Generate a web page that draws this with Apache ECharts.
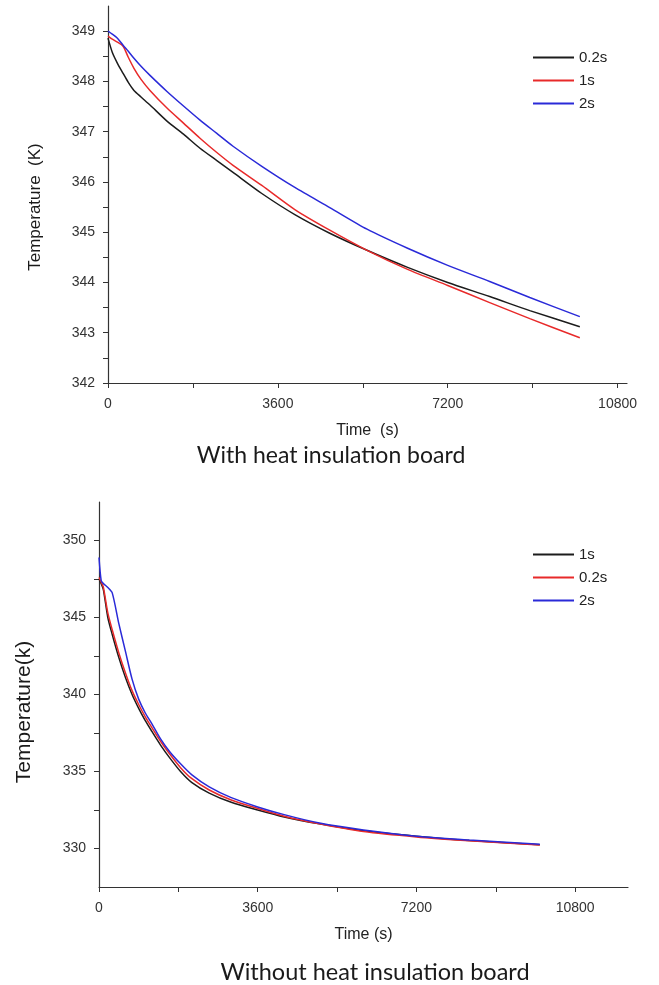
<!DOCTYPE html>
<html>
<head>
<meta charset="utf-8">
<script src="https://cdn.jsdelivr.net/npm/echarts@6/dist/echarts.min.js"></script>
<style>
  html, body { margin: 0; padding: 0; background: #fff; }
  #main { width: 659px; height: 985px; }
</style>
</head>
<body>
<div id="main"></div>
<script>
// top panel: with heat insulation board
const timeTop = [0, 90, 200, 320, 430, 550, 700, 890, 1250, 1600, 1950, 2300, 2650, 3260, 3960, 4700, 5490, 6350, 7200, 8090, 8940, 10000];
const top02s = [348.86, 348.58, 348.36, 348.16, 347.98, 347.82, 347.69, 347.53, 347.21, 346.95, 346.67, 346.43, 346.19, 345.77, 345.35, 344.98, 344.64, 344.30, 344.00, 343.72, 343.44, 343.12];
const top1s = [348.90, 348.84, 348.78, 348.70, 348.48, 348.26, 348.04, 347.82, 347.47, 347.17, 346.87, 346.59, 346.33, 345.93, 345.45, 345.04, 344.64, 344.26, 343.94, 343.60, 343.28, 342.90];
const top2s = [349.00, 348.94, 348.86, 348.72, 348.60, 348.46, 348.30, 348.12, 347.80, 347.51, 347.23, 346.97, 346.71, 346.31, 345.89, 345.49, 345.06, 344.68, 344.34, 344.02, 343.70, 343.32];

// bottom panel: without heat insulation board
const timeBot = [0, 50, 100, 200, 300, 450, 600, 750, 900, 1050, 1200, 1400, 1600, 1850, 2100, 2500, 3000, 3600, 4200, 5000, 6000, 7200, 8400, 10000];
const bot1s = [347.5, 347.2, 346.8, 345.0, 343.9, 342.4, 341.1, 340.0, 339.1, 338.3, 337.6, 336.7, 335.9, 335.0, 334.3, 333.6, 333.0, 332.5, 332.05, 331.6, 331.15, 330.8, 330.52, 330.25];
const bot02s = [347.6, 347.3, 346.95, 345.3, 344.2, 342.7, 341.4, 340.25, 339.35, 338.55, 337.85, 336.95, 336.15, 335.25, 334.55, 333.8, 333.15, 332.6, 332.1, 331.6, 331.1, 330.75, 330.5, 330.22];
const bot2s = [348.9, 347.4, 347.2, 346.95, 346.6, 344.6, 342.8, 341.0, 339.7, 338.8, 338.1, 337.1, 336.3, 335.5, 334.8, 334.0, 333.3, 332.7, 332.2, 331.65, 331.2, 330.8, 330.55, 330.27];

// tick labels
const xLabels = [0, 3600, 7200, 10800];
const xTicks = [0, 1800, 3600, 5400, 7200, 9000, 10800];
const yLabelsTop = [342, 343, 344, 345, 346, 347, 348, 349];
const yTicksTop = [342, 342.5, 343, 343.5, 344, 344.5, 345, 345.5, 346, 346.5, 347, 347.5, 348, 348.5, 349];
const yLabelsBot = [330, 335, 340, 345, 350];
const yTicksBot = [330, 332.5, 335, 337.5, 340, 342.5, 345, 347.5, 350];

const BLACK = '#1c1c1c', RED = '#e82a2a', BLUE = '#2a2ad8';
const FONT = 'Liberation Sans, Arial, sans-serif';

function zip(t, v) {
  return t.map((x, i) => [x, v[i]]);
}

function mkSeries(name, t, v, color, idx) {
  return {
    name: name, type: 'line', xAxisIndex: idx, yAxisIndex: idx,
    data: zip(t, v), showSymbol: false, smooth: 0.25,
    lineStyle: { color: color, width: 1.5 }, itemStyle: { color: color },
    animation: false
  };
}

const axisLineStyle = { lineStyle: { color: '#333', width: 1.2 } };
const labelStyle = { color: '#333', fontSize: 14, fontFamily: FONT, formatter: v => String(v) };

function xAxisOf(idx, max, name) {
  return {
    type: 'value', gridIndex: idx, min: 0, max: max,
    name: name, nameLocation: 'middle', nameGap: 40,
    nameTextStyle: { color: '#222', fontSize: 16, fontFamily: FONT },
    axisLine: axisLineStyle,
    axisTick: { show: true, length: 5, customValues: xTicks, lineStyle: { color: '#333' } },
    axisLabel: Object.assign({ margin: 14, customValues: xLabels }, labelStyle),
    splitLine: { show: false }
  };
}

function yAxisOf(idx, min, max, labels, ticks) {
  return {
    type: 'value', gridIndex: idx, min: min, max: max,
    axisLine: Object.assign({ show: true }, axisLineStyle),
    axisTick: { show: true, length: 5, customValues: ticks, lineStyle: { color: '#333' } },
    axisLabel: Object.assign({ margin: 13, customValues: labels }, labelStyle),
    splitLine: { show: false }
  };
}

function legendOf(top, names) {
  return {
    orient: 'vertical', left: 528, top: top,
    data: names, icon: 'rect', itemWidth: 41, itemHeight: 2, itemGap: 8,
    selectedMode: false,
    formatter: n => n.split('|')[1],
    textStyle: { color: '#222', fontSize: 15, lineHeight: 15, fontFamily: FONT }
  };
}

function label(text, x, y, font, rotate) {
  return {
    type: 'text', x: x, y: y, rotation: rotate ? Math.PI / 2 : 0,
    style: { text: text, align: 'center', verticalAlign: 'middle', fill: '#1a1a1a', font: font }
  };
}

const chart = echarts.init(document.getElementById('main'));
chart.setOption({
  backgroundColor: '#fff',
  animation: false,
  grid: [
    { left: 108, top: 6, width: 519, height: 377 },
    { left: 99, top: 502, width: 529, height: 385 }
  ],
  xAxis: [
    xAxisOf(0, 11000, 'Time  (s)'),
    xAxisOf(1, 12000, 'Time (s)')
  ],
  yAxis: [
    yAxisOf(0, 342, 349.5, yLabelsTop, yTicksTop),
    yAxisOf(1, 327.5, 352.5, yLabelsBot, yTicksBot)
  ],
  legend: [
    legendOf(45, ['a|0.2s', 'a|1s', 'a|2s']),
    legendOf(542, ['b|1s', 'b|0.2s', 'b|2s'])
  ],
  graphic: [
    label('Temperature  (K)', 35, 207, '17px ' + FONT, true),
    label('Temperature(k)', 24, 712, '21px ' + FONT, true),
    label('With heat insulation board', 331, 456, '23px Lato, "Open Sans", sans-serif'),
    label('Without heat insulation board', 375, 972, '23.5px Lato, "Open Sans", sans-serif')
  ],
  series: [
    mkSeries('a|0.2s', timeTop, top02s, BLACK, 0),
    mkSeries('a|1s', timeTop, top1s, RED, 0),
    mkSeries('a|2s', timeTop, top2s, BLUE, 0),
    mkSeries('b|1s', timeBot, bot1s, BLACK, 1),
    mkSeries('b|0.2s', timeBot, bot02s, RED, 1),
    mkSeries('b|2s', timeBot, bot2s, BLUE, 1)
  ]
});
</script>
</body>
</html>
